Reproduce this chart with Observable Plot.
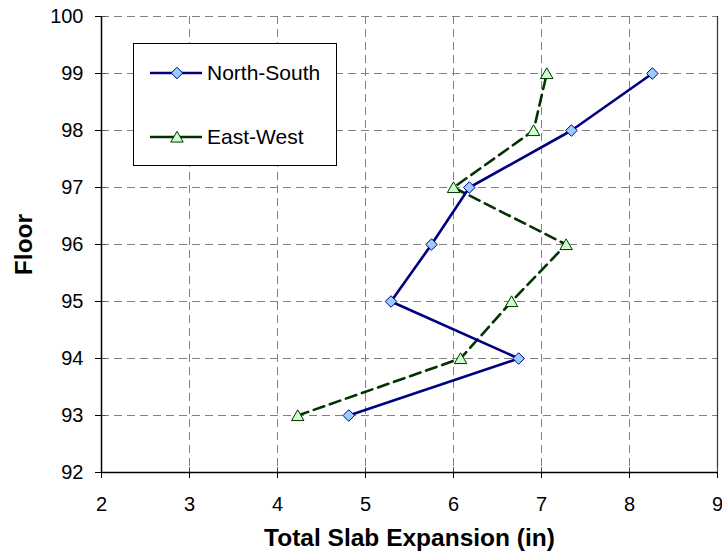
<!DOCTYPE html>
<html>
<head>
<meta charset="utf-8">
<script src="https://cdn.jsdelivr.net/npm/d3@7"></script>
<script src="https://cdn.jsdelivr.net/npm/@observablehq/plot@0.6"></script>
<style>
  html, body { margin: 0; padding: 0; background: #fff; }
  #wrap { position: relative; width: 722px; height: 556px; font-family: 'Liberation Sans', Arial, sans-serif; }
  #legend { position: absolute; left: 133px; top: 43px; }
</style>
</head>
<body>
<div id="wrap"></div>
<script>
// ---- data ----
const floors = [93, 94, 95, 96, 97, 98, 99];
const northSouth = [4.81, 6.74, 5.29, 5.75, 6.18, 7.34, 8.26];
const eastWest = [4.23, 6.08, 6.66, 7.28, 6.00, 6.91, 7.06];
const xTicks = [2, 3, 4, 5, 6, 7, 8, 9];
const yTicks = [92, 93, 94, 95, 96, 97, 98, 99, 100];
const seriesNames = ["North-South", "East-West"];
const xTitle = "Total Slab Expansion (in)";
const yTitle = "Floor";

// ---- styles ----
const nsColor = "#000080", nsFill = "#99CCFF";
const ewColor = "#003300", ewFill = "#CCFFCC";

const nsData = floors.map((f, i) => ({floor: f, value: northSouth[i]}));
const ewData = floors.map((f, i) => ({floor: f, value: eastWest[i]}));

const xMin = xTicks[0], xMax = xTicks[xTicks.length - 1];
const yMin = yTicks[0], yMax = yTicks[yTicks.length - 1];

const chart = Plot.plot({
  width: 722,
  height: 556,
  marginLeft: 101,
  marginRight: 5,
  marginTop: 16,
  marginBottom: 84,
  x: {domain: [xMin, xMax]},
  y: {domain: [yMin, yMax]},
  style: {fontFamily: "'Liberation Sans', Arial, sans-serif", fontSize: "20px", color: "#000", background: "#fff"},
  marks: [
    Plot.gridX(xTicks.slice(1, -1), {stroke: "#808080", strokeOpacity: 1, strokeDasharray: "8,5"}),
    Plot.gridY(yTicks.slice(1), {stroke: "#808080", strokeOpacity: 1, strokeDasharray: "8,5"}),
    Plot.ruleX([xMax], {stroke: "#333", strokeWidth: 1.2}),
    Plot.axisX({ticks: xTicks, tickSize: 6, tickPadding: 18, label: null, tickFormat: d => String(d), stroke: "#000"}),
    Plot.axisY({ticks: yTicks, tickSize: 6, tickPadding: 12, label: null, tickFormat: d => String(d), stroke: "#000"}),
    Plot.axisX({ticks: xTicks, tickSize: -5, label: null, text: null, stroke: "#555"}),
    Plot.axisY({ticks: yTicks, tickSize: -5, label: null, text: null, stroke: "#555"}),
    Plot.ruleX([xMin], {stroke: "#000", strokeWidth: 1.5}),
    Plot.ruleY([yMin], {stroke: "#000", strokeWidth: 1.5}),
    Plot.line(ewData, {x: "value", y: "floor", stroke: ewColor, strokeWidth: 2.6, strokeDasharray: "11,6"}),
    Plot.line(nsData, {x: "value", y: "floor", stroke: nsColor, strokeWidth: 2.6}),
    Plot.dot(ewData, {x: "value", y: "floor", symbol: "triangle", r: 4.6, fill: ewFill, stroke: ewColor, strokeWidth: 1, dy: 1.5}),
    Plot.dot(nsData, {x: "value", y: "floor", symbol: "diamond2", r: 5.2, fill: nsFill, stroke: nsColor, strokeWidth: 1}),
    Plot.text([xTitle], {text: d => d, frameAnchor: "bottom", dy: 66, fontWeight: "bold", fontSize: 24.5, lineAnchor: "middle", textAnchor: "middle", fill: "#000"}),
    Plot.text([yTitle], {text: d => d, frameAnchor: "left", dx: -77, rotate: -90, fontWeight: "bold", fontSize: 24.5, lineAnchor: "middle", textAnchor: "middle", fill: "#000"})
  ]
});

const wrap = document.getElementById("wrap");
wrap.appendChild(chart);

// ---- legend ----
const lw = 204, lh = 123;
const legend = d3.create("svg").attr("id", "legend").attr("width", lw).attr("height", lh);
legend.append("rect").attr("x", 0.5).attr("y", 0.5).attr("width", lw - 1).attr("height", lh - 1)
  .attr("fill", "#fff").attr("stroke", "#000").attr("stroke-width", 1);
const rows = [
  {name: seriesNames[0], y: 30, color: nsColor, fill: nsFill, sym: d3.symbolDiamond2, r: 5.2, dy: 0},
  {name: seriesNames[1], y: 94, color: ewColor, fill: ewFill, sym: d3.symbolTriangle, r: 4.6, dy: 1.5}
];
for (const row of rows) {
  legend.append("line").attr("x1", 17).attr("x2", 69).attr("y1", row.y).attr("y2", row.y)
    .attr("stroke", row.color).attr("stroke-width", 2.6);
  legend.append("path").attr("d", d3.symbol(row.sym, Math.PI * row.r * row.r)())
    .attr("transform", `translate(44,${row.y + row.dy})`)
    .attr("fill", row.fill).attr("stroke", row.color).attr("stroke-width", 1);
  legend.append("text").attr("x", 74).attr("y", row.y).attr("dy", "0.35em")
    .attr("font-family", "'Liberation Sans', Arial, sans-serif").attr("font-size", 21)
    .attr("fill", "#000").text(row.name);
}
wrap.appendChild(legend.node());
</script>
</body>
</html>
